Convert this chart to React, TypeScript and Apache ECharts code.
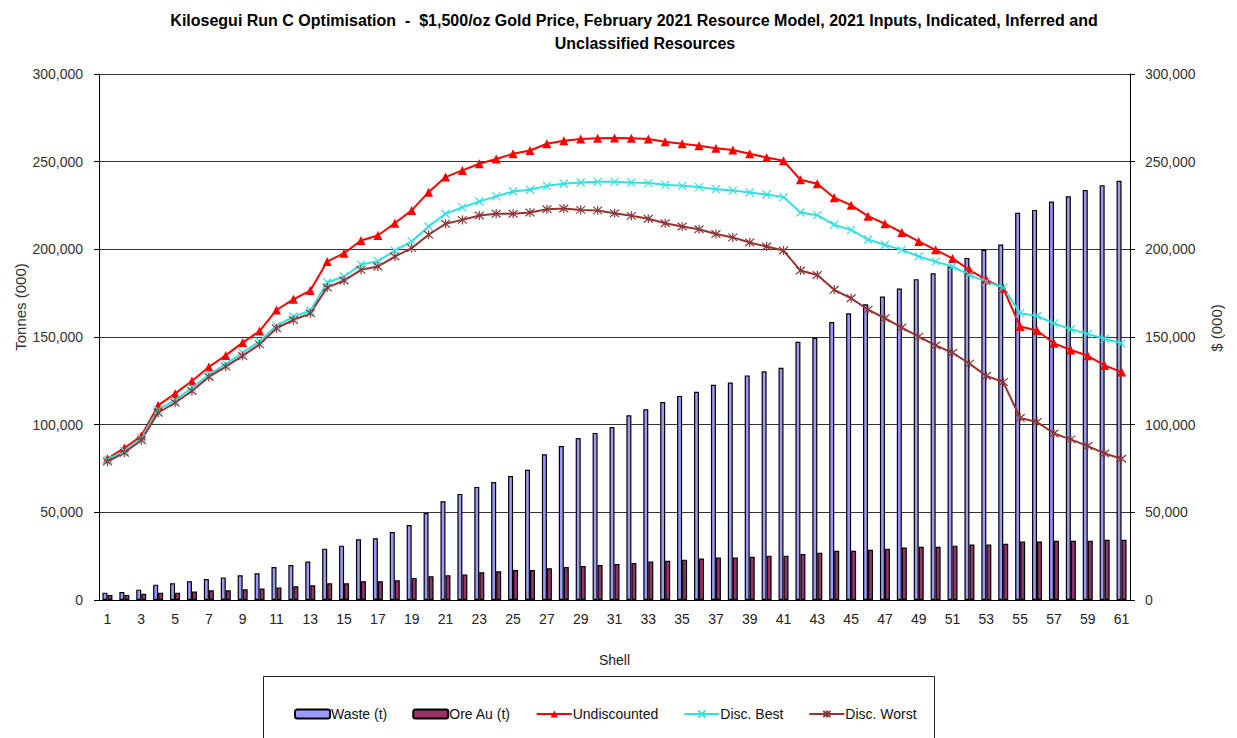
import React, { useEffect, useRef } from "react";
import * as echarts from "echarts";

const shells: string[] = Array.from({ length: 61 }, (_, i) => String(i + 1));

const wasteT: number[] = [
  4200, 4600, 5900, 8750, 9500, 10650, 12000, 12900, 14100, 15200,
  18800, 20000, 21900, 29300, 31000, 34600, 35200, 38800, 42800, 49600,
  56300, 60500, 64500, 67300, 70700, 74300, 83100, 87800, 92400, 95300,
  98700, 105300, 108800, 112900, 116400, 118800, 122800, 124000, 128100, 130400,
  132500, 147300, 149600, 158500, 163500, 168700, 173100, 177600, 183000, 186400,
  190200, 195100, 199700, 202700, 220800, 222500, 227300, 230300, 233800, 236600,
  239100,
];

const oreAuT: number[] = [
  2900, 2900, 3600, 4200, 4200, 4800, 5500, 5500, 6100, 6500,
  7200, 7800, 8400, 9500, 9500, 10700, 10700, 11200, 12600, 13500,
  14100, 14600, 15800, 16400, 17100, 17100, 18100, 18800, 19400, 20000,
  20500, 21100, 21900, 22400, 23000, 23600, 24200, 24200, 24700, 25300,
  25300, 26200, 27000, 28100, 28100, 28700, 29300, 29900, 30400, 30400,
  31000, 31600, 31600, 32100, 33300, 33300, 33800, 33800, 33800, 34400,
  34400,
];

const undiscounted: number[] = [
  80600, 86700, 93500, 111000, 117700, 124900, 132900, 139500, 146800, 153400,
  165400, 171500, 176500, 193000, 197800, 205000, 207900, 214900, 222200, 232600,
  241200, 245000, 248800, 251500, 254500, 256400, 260200, 261900, 262900, 263300,
  263500, 263300, 262900, 261400, 260200, 259100, 257600, 256600, 254500, 252400,
  250500, 239700, 237400, 229400, 225200, 218900, 214600, 209600, 204500, 199700,
  194800, 188300, 182600, 177800, 156000, 153700, 146400, 142600, 139300, 133800,
  130000,
];

const discBest: number[] = [
  80000, 85000, 92500, 108500, 114000, 121000, 128500, 134500, 141000, 147500,
  156500, 161600, 165000, 181100, 184500, 191300, 193200, 199300, 204500, 213000,
  220300, 223900, 227300, 230200, 233000, 234000, 236200, 237400, 238100, 238500,
  238500, 238100, 237800, 236800, 236200, 235500, 234300, 233600, 232400, 231300,
  229800, 221000, 219500, 214000, 211100, 205600, 202600, 199700, 195900, 193000,
  190200, 185400, 181600, 178200, 163600, 162000, 157800, 154400, 151800, 149000,
  146400,
];

const discWorst: number[] = [
  78900, 84000, 91100, 106800, 112500, 119200, 127200, 133100, 139200, 145800,
  155000, 159700, 163500, 178200, 182200, 188300, 190200, 195900, 200700, 208300,
  214600, 216800, 219300, 220300, 220300, 221000, 222900, 223300, 222500, 222200,
  220600, 219100, 217400, 214900, 213000, 211500, 208700, 206800, 203900, 201600,
  199300, 187900, 185400, 176900, 172100, 165600, 160700, 155400, 150200, 145200,
  141000, 134800, 127800, 124300, 103800, 101500, 95000, 91600, 87800, 83600,
  80600,
];

const titleLine1 =
  "Kilosegui Run C Optimisation  -  $1,500/oz Gold Price, February 2021 Resource Model, 2021 Inputs, Indicated, Inferred and";
const titleLine2 = "Unclassified Resources";

const FONT = "'Liberation Sans', Arial, sans-serif";
const fmt = (v: number) => v.toLocaleString("en-US");

export default function App() {
  const ref = useRef<HTMLDivElement>(null);

  useEffect(() => {
    if (!ref.current) return;
    const chart = echarts.init(ref.current, undefined, { renderer: "svg" });
    const crossPath = "path://M0,0L10,10M10,0L0,10";
    const starPath = "path://M0,0L10,10M10,0L0,10M5,-1L5,11";
    const option: any = {
      animation: false,
      backgroundColor: "#fff",
      textStyle: { fontFamily: FONT },
      grid: { left: 99, right: 107, top: 74, bottom: 138 },
      graphic: [
        {
          type: "text",
          x: 634,
          y: 20,
          style: {
            text: titleLine1,
            fill: "#000",
            font: `bold 16px ${FONT}`,
            textAlign: "center",
            textVerticalAlign: "middle",
          },
        },
        {
          type: "text",
          x: 645,
          y: 43,
          style: {
            text: titleLine2,
            fill: "#000",
            font: `bold 16px ${FONT}`,
            textAlign: "center",
            textVerticalAlign: "middle",
          },
        },
        {
          type: "text",
          x: 20,
          y: 307,
          rotation: Math.PI / 2,
          style: {
            text: "Tonnes (000)",
            fill: "#333",
            font: `15px ${FONT}`,
            textAlign: "center",
            textVerticalAlign: "middle",
          },
        },
        {
          type: "text",
          x: 1216,
          y: 328,
          rotation: Math.PI / 2,
          style: {
            text: "$ (000)",
            fill: "#333",
            font: `15px ${FONT}`,
            textAlign: "center",
            textVerticalAlign: "middle",
          },
        },
        {
          type: "rect",
          shape: { x: 263.5, y: 676.5, width: 671, height: 90 },
          style: { fill: "none", stroke: "#222", lineWidth: 1 },
        },
      ],
      legend: {
        left: 289,
        top: 702,
        itemGap: 25,
        itemWidth: 35,
        itemHeight: 9,
        textStyle: {
          fontSize: 14,
          color: "#111",
          fontFamily: FONT,
          padding: [0, 0, 0, -4],
        },
        data: ["Waste (t)", "Ore Au (t)", "Undiscounted", "Disc. Best", "Disc. Worst"],
      },
      xAxis: {
        type: "category",
        data: shells,
        boundaryGap: true,
        axisLine: { lineStyle: { color: "#000", width: 1 } },
        axisTick: { interval: 0, length: 5, lineStyle: { color: "#000" } },
        axisLabel: { interval: 1, color: "#222", fontSize: 14, fontFamily: FONT, margin: 12 },
        name: "Shell",
        nameLocation: "middle",
        nameGap: 53,
        nameTextStyle: { color: "#222", fontSize: 14, fontFamily: FONT },
      },
      yAxis: [
        {
          type: "value",
          min: 0,
          max: 300000,
          interval: 50000,
          position: "left",
          axisLine: { show: true, lineStyle: { color: "#000" } },
          axisTick: { show: true, length: 5, lineStyle: { color: "#000" } },
          axisLabel: { formatter: fmt, color: "#333", fontSize: 14, fontFamily: FONT, margin: 16 },
          splitLine: { show: true, lineStyle: { color: "#333", width: 1 } },
        },
        {
          type: "value",
          min: 0,
          max: 300000,
          interval: 50000,
          position: "right",
          axisLine: { show: true, lineStyle: { color: "#000" } },
          axisTick: { show: true, length: 5, lineStyle: { color: "#000" } },
          axisLabel: { formatter: fmt, color: "#333", fontSize: 14, fontFamily: FONT, margin: 15 },
          splitLine: { show: false },
        },
      ],
      series: [
        {
          name: "Waste (t)",
          type: "bar",
          yAxisIndex: 0,
          data: wasteT,
          barWidth: 5,
          barGap: "0%",
          itemStyle: { color: "#9999FF", borderColor: "#000", borderWidth: 1.2 },
        },
        {
          name: "Ore Au (t)",
          type: "bar",
          yAxisIndex: 0,
          data: oreAuT,
          barWidth: 5,
          barGap: "0%",
          itemStyle: { color: "#993366", borderColor: "#000", borderWidth: 1.2 },
        },
        {
          name: "Undiscounted",
          type: "line",
          yAxisIndex: 1,
          data: undiscounted,
          symbol: "triangle",
          symbolSize: 9,
          lineStyle: { color: "#FF0000", width: 2 },
          itemStyle: { color: "#FF0000" },
        },
        {
          name: "Disc. Best",
          type: "line",
          yAxisIndex: 1,
          data: discBest,
          symbol: crossPath,
          symbolSize: 8,
          lineStyle: { color: "#33E0E0", width: 2 },
          itemStyle: { color: "#33E0E0", borderColor: "#33E0E0", borderWidth: 1.2 },
        },
        {
          name: "Disc. Worst",
          type: "line",
          yAxisIndex: 1,
          data: discWorst,
          symbol: starPath,
          symbolSize: 9,
          lineStyle: { color: "#993333", width: 2 },
          itemStyle: { color: "#993333", borderColor: "#8a3a3a", borderWidth: 1.2 },
        },
      ],
    };
    chart.setOption(option);
    return () => chart.dispose();
  }, []);

  return (
    <div
      ref={ref}
      style={{ position: "absolute", left: 0, top: 0, width: 1237, height: 738 }}
    />
  );
}
